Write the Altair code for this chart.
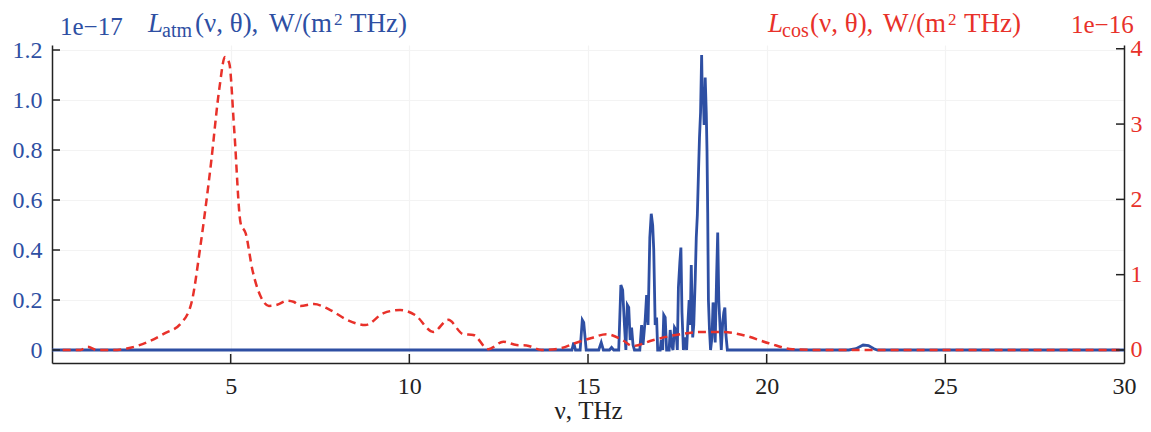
import altair as alt
import pandas as pd

# ---- data ----
blue_nu = [0.0, 14.30, 14.55, 14.60, 14.65, 14.78, 14.84, 14.88, 14.95, 15.30, 15.37, 15.43,
           15.60, 15.66, 15.72, 15.86, 15.92, 15.97, 16.02, 16.06, 16.10, 16.14, 16.18, 16.22,
           16.26, 16.30, 16.45, 16.50, 16.54, 16.60, 16.64, 16.68, 16.73, 16.77, 16.81, 16.84,
           16.88, 16.92, 16.95, 17.02, 17.05, 17.09, 17.12, 17.16, 17.20, 17.27, 17.30, 17.34,
           17.38, 17.42, 17.46, 17.50, 17.53, 17.57, 17.60, 17.63, 17.67, 17.72, 17.76, 17.80,
           17.83, 17.86, 17.89, 17.93, 17.96, 18.00, 18.03, 18.06, 18.09, 18.12, 18.15, 18.18,
           18.20, 18.22, 18.25, 18.28, 18.31, 18.33, 18.35, 18.37, 18.40, 18.43, 18.47, 18.50,
           18.53, 18.56, 18.60, 18.63, 18.66, 18.70, 18.73, 18.77, 18.80, 18.83, 18.86, 18.90,
           22.30, 22.50, 22.70, 22.85, 23.00, 23.10, 30.0]
blue_L = [0, 0, 0, 0.03, 0, 0, 0.12, 0.11, 0, 0, 0.03, 0,
          0, 0.01, 0, 0, 0.26, 0.24, 0.10, 0, 0.18, 0.17, 0.04, 0.09,
          0.02, 0, 0, 0.10, 0.02, 0.12, 0.22, 0.10, 0.45, 0.545, 0.50, 0.40,
          0.10, 0.13, 0, 0, 0.04, 0, 0.14, 0.13, 0, 0, 0.08, 0.02,
          0, 0.09, 0.08, 0, 0.25, 0.35, 0.41, 0.15, 0, 0.05, 0, 0.12,
          0.20, 0.10, 0.34, 0.05, 0.10, 0.28, 0.45, 0.54, 0.70, 0.85, 0.95, 1.18,
          1.00, 1.05, 0.90, 1.09, 0.95, 0.80, 0.55, 0.20, 0.08, 0, 0.05, 0.19,
          0.15, 0.03, 0.30, 0.47, 0.20, 0.08, 0, 0.11, 0.15, 0.17, 0.06, 0,
          0, 0.005, 0.02, 0.018, 0.005, 0, 0]

red_nu = [0.3, 0.8, 1.0, 1.25, 1.7, 2.1, 2.7, 3.15, 3.6, 3.9, 4.15, 4.45, 4.68, 4.84, 4.96,
          5.10, 5.28, 5.42, 5.61, 5.84, 6.07, 6.3, 6.58, 6.76, 6.95, 7.33, 7.79, 8.26, 8.77,
          9.28, 9.74, 10.16, 10.67, 11.09, 11.51, 11.79, 12.21, 12.63, 13.0, 13.28, 13.70,
          14.21, 14.63, 15.1, 15.51, 15.97, 16.25, 16.81, 17.46, 18.2, 18.76, 19.32, 20.06,
          20.72, 21.5, 30.0]
red_L = [0, 0, 0.044, 0, 0, 0.02, 0.11, 0.22, 0.35, 0.62, 1.37, 2.48, 3.46, 3.89, 3.81,
         2.92, 1.68, 1.55, 1.06, 0.71, 0.585, 0.60, 0.655, 0.64, 0.585, 0.61, 0.53, 0.40, 0.33,
         0.49, 0.53, 0.465, 0.24, 0.40, 0.21, 0.20, 0.01, 0.11, 0.066, 0.06, 0,
         0.02, 0.09, 0.16, 0.21, 0.13, 0.053, 0.13, 0.20, 0.24, 0.24, 0.20, 0.09,
         0.01, 0, 0]

x_ticks = [5, 10, 15, 20, 25, 30]
left_ticks = [0, 0.2, 0.4, 0.6, 0.8, 1.0, 1.2]
right_ticks = [0, 1, 2, 3, 4]

left_exp = "1e\u221217"
right_exp = "1e\u221216"
title_a = "(\u03bd, \u03b8),"
title_b = "W/(m"
title_end = "THz)"
x_title = "\u03bd, THz"

# ---- style ----
W, H = 1072, 318
BLUE = "#2e4fa3"
RED = "#e8312a"
AX = "#222222"
FONT = "Liberation Serif"

xscale = alt.Scale(domain=[0, 30], nice=False, zero=False)
yl = alt.Scale(domain=[-0.052, 1.22], nice=False, zero=False)
yr = alt.Scale(domain=[-0.173, 4.05], nice=False, zero=False)

XAX = alt.Axis(
    values=x_ticks, title=x_title, ticks=False, labelPadding=30, labelBaseline="alphabetic",
    labelFontSize=24, labelFont=FONT, labelColor=AX, titleFont=FONT, titleFontSize=25,
    titleFontWeight="normal", titleColor=AX, titleY=55, titleBaseline="alphabetic",
    domainColor=AX, domainWidth=1.5, grid=True, gridColor="#f3f3f3", gridWidth=1.2,
    labelFlush=False)
YLAX = alt.Axis(
    values=left_ticks, orient="left", title=None, ticks=False, labelPadding=10,
    labelExpr="datum.value == 0 ? '0' : format(datum.value, '.1f')",
    labelFontSize=24, labelFont=FONT, labelColor=BLUE, domainColor=AX, domainWidth=1.5,
    grid=True, gridColor="#f3f3f3", gridWidth=1.2)
YRAX = alt.Axis(
    values=right_ticks, orient="right", title=None, ticks=False, labelPadding=6,
    labelFontSize=24, labelFont=FONT, labelColor=RED, domainColor=AX, domainWidth=1.5,
    grid=False)


def X(field="nu"):
    return alt.X(f"{field}:Q", scale=xscale, axis=XAX)


blue_df = pd.DataFrame({"nu": blue_nu, "L": blue_L})
red_df = pd.DataFrame({"nu": red_nu, "L": red_L})

blue = alt.Chart(blue_df).mark_line(color=BLUE, strokeWidth=2.8).encode(
    x=X(), y=alt.Y("L:Q", scale=yl, axis=YLAX))

red = alt.Chart(red_df).mark_line(color=RED, strokeWidth=2.5, strokeDash=[8, 5],
                                  interpolate="monotone").encode(
    x=X(), y=alt.Y("L:Q", scale=yr, axis=YRAX))

xt = alt.Chart(pd.DataFrame({"nu": x_ticks[:-1]})).mark_rule(color=AX, strokeWidth=1.5).encode(
    x=X(), y=alt.value(H), y2=alt.value(H - 9))
lt = alt.Chart(pd.DataFrame({"L": left_ticks})).mark_rule(color=AX, strokeWidth=1.5).encode(
    y=alt.Y("L:Q", scale=yl, axis=YLAX), x=alt.value(0), x2=alt.value(8))
rt = alt.Chart(pd.DataFrame({"L": right_ticks})).mark_rule(color=AX, strokeWidth=1.5).encode(
    y=alt.Y("L:Q", scale=yr, axis=YRAX), x=alt.value(W), x2=alt.value(W - 8))


def txt(s, x, y, size, color, italic=False):
    return alt.Chart(pd.DataFrame({"t": [s]})).mark_text(
        align="left", baseline="alphabetic", font=FONT, fontSize=size, color=color,
        fontStyle="italic" if italic else "normal").encode(
        text="t:N", x=alt.value(x), y=alt.value(y))


texts = [
    txt(left_exp, 8, -10, 25, BLUE),
    txt("L", 96, -13, 27, BLUE, True),
    txt("atm", 110, -8, 20, BLUE),
    txt(title_a, 143, -13, 27, BLUE),
    txt(title_b, 217, -13, 27, BLUE),
    txt("2", 282, -20, 17, BLUE),
    txt(title_end, 298, -13, 27, BLUE),
    txt("L", 716, -13, 27, RED, True),
    txt("cos", 730, -8, 20, RED),
    txt(title_a, 758, -13, 27, RED),
    txt(title_b, 831, -13, 27, RED),
    txt("2", 896, -20, 17, RED),
    txt(title_end, 912, -13, 27, RED),
    txt(right_exp, 1019, -12, 25, RED),
]

left = alt.layer(blue, lt, xt)
right = alt.layer(red, rt)

chart = alt.layer(left, right, *texts).resolve_scale(y="independent").properties(
    width=W, height=H,
    background="white",
    autosize=alt.AutoSizeParams(type="none"),
    padding={"left": 44, "top": 37, "right": 19, "bottom": 61},
).configure_view(stroke=None)

chart.save("out.html", embed_options={"renderer": "svg", "actions": False})
